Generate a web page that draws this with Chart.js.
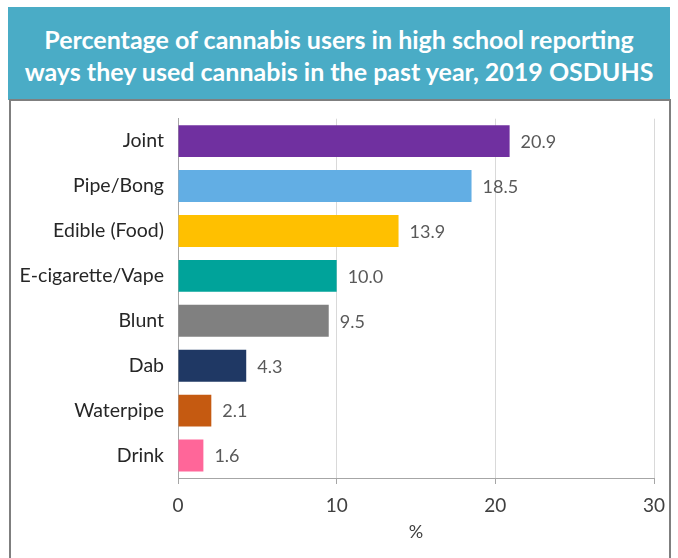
<!DOCTYPE html>
<html>
<head>
<meta charset="utf-8">
<script src="https://cdn.jsdelivr.net/npm/chart.js@4"></script>
<style>
    body { margin: 0; background: #fff; font-family: Lato, 'Open Sans', sans-serif; }
    #header {
        position: absolute; left: 8px; top: 7px; width: 662px; height: 93px;
        background: #4aacc6; color: #fff; font-weight: bold; font-size: 25px;
        text-align: center; line-height: 32px; box-sizing: border-box; padding-top: 16px;
    }
    #box {
        position: absolute; left: 9px; top: 99px; width: 662px; height: 480px;
        border: 2px solid #7f7f7f; box-sizing: border-box; background: #fff;
    }
    #wrap { position: absolute; left: 0; top: 0; width: 658px; height: 457px; }
</style>
</head>
<body>
<div id="header">Percentage of cannabis users in high school reporting<br>ways they used cannabis in the past year, 2019 OSDUHS</div>
<div id="box"><div id="wrap"><canvas id="chart"></canvas></div></div>
<script>
const methods = ['Joint', 'Pipe/Bong', 'Edible (Food)', 'E-cigarette/Vape', 'Blunt', 'Dab', 'Waterpipe', 'Drink'];
const percents = [20.9, 18.5, 13.9, 10.0, 9.5, 4.3, 2.1, 1.6];
const barColors = ['#7030a0', '#62aee4', '#ffc000', '#00a39a', '#808080', '#1f3864', '#c55a11', '#ff6699'];
const xTicks = [0, 10, 20, 30];

const fontFamily = 'Lato, "Open Sans", sans-serif';

// writes the value just past the end of each bar
const valueLabels = {
    id: 'valueLabels',
    afterDatasetsDraw(chart) {
        const ctx = chart.ctx;
        const meta = chart.getDatasetMeta(0);
        ctx.save();
        ctx.font = '18px ' + fontFamily;
        ctx.fillStyle = '#595959';
        ctx.textBaseline = 'middle';
        meta.data.forEach((bar, i) => {
            ctx.fillText(percents[i].toFixed(1), bar.x + 11, bar.y + 1);
        });
        ctx.restore();
    }
};

new Chart(document.getElementById('chart'), {
    type: 'bar',
    data: {
        labels: methods,
        datasets: [{
            data: percents,
            backgroundColor: barColors,
            barPercentage: 0.71,
            categoryPercentage: 1
        }]
    },
    options: {
        indexAxis: 'y',
        responsive: true,
        maintainAspectRatio: false,
        animation: false,
        layout: { padding: { top: 12, right: 15, bottom: 10, left: 0 } },
        plugins: { legend: { display: false }, tooltip: { enabled: false } },
        scales: {
            x: {
                min: 0, max: 30,
                afterBuildTicks: (scale) => { scale.ticks = xTicks.map(v => ({ value: v })); },
                afterFit: (scale) => {
                    scale.height = 70;
                    scale.paddingRight = 0;   // let the "30" label hang into the right margin
                },
                grid: { color: '#d9d9d9', tickColor: '#a6a6a6', tickLength: 6 },
                border: { color: '#a6a6a6' },
                ticks: { color: '#404040', padding: 10, font: { size: 19, family: fontFamily } },
                title: { display: true, text: '%', color: '#404040', padding: { top: 6, bottom: 5 }, font: { size: 18, family: fontFamily } }
            },
            y: {
                afterFit: (scale) => { scale.width = 167; },
                grid: { display: false },
                border: { color: '#a6a6a6' },
                ticks: { color: '#262626', padding: 6, font: { size: 19.5, family: fontFamily } }
            }
        }
    },
    plugins: [valueLabels]
});
</script>
</body>
</html>
